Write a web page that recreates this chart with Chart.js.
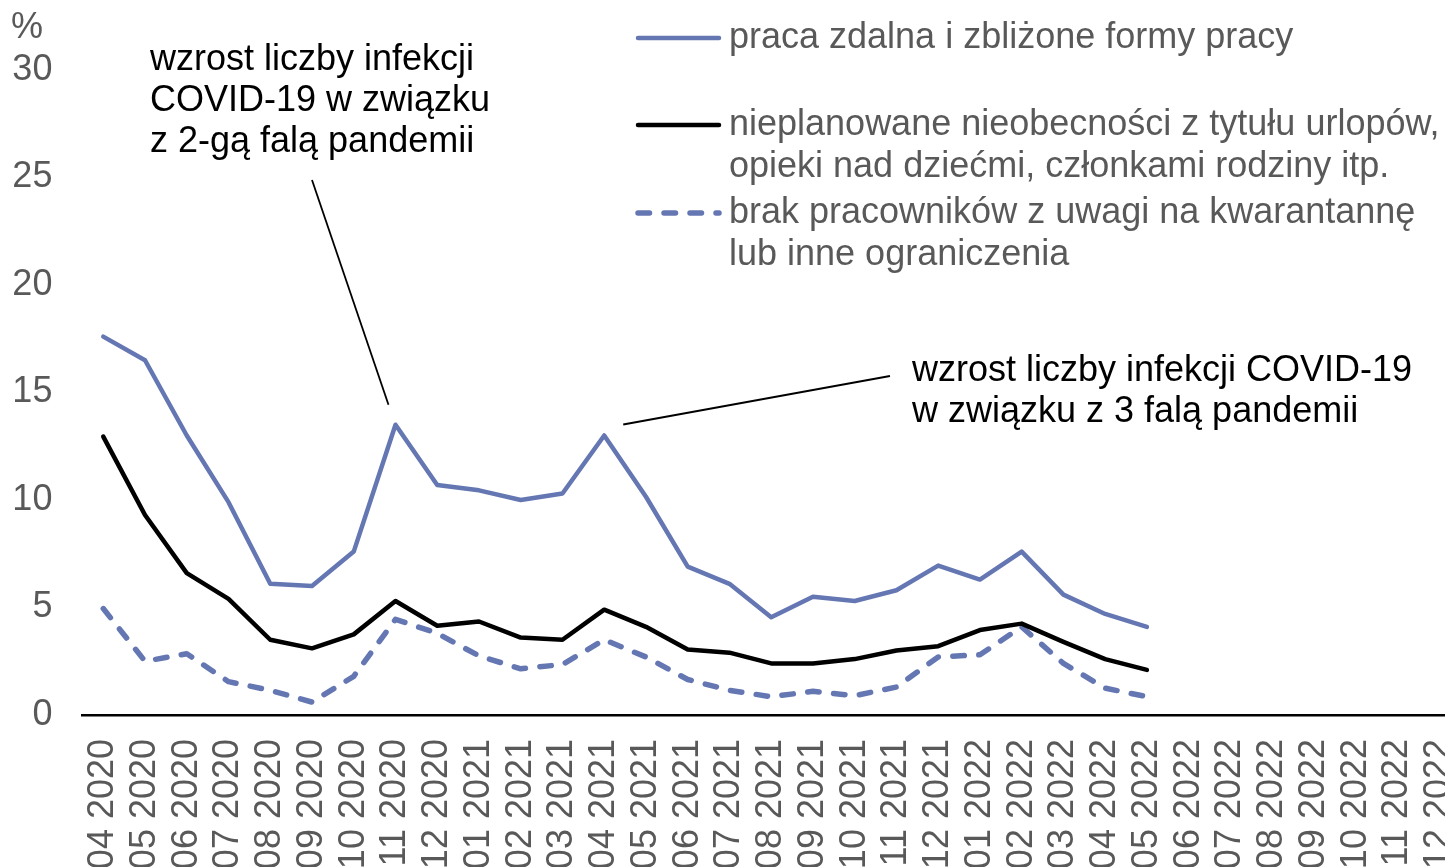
<!DOCTYPE html>
<html>
<head>
<meta charset="utf-8">
<script src="https://cdn.jsdelivr.net/npm/chart.js@4"></script>
<style>
    html, body { margin: 0; padding: 0; background: #fff; overflow: hidden; }
    #wrap { position: absolute; left: 0; top: 0; width: 1461px; height: 867px; }
</style>
</head>
<body>
<div id="wrap"><canvas id="chart1"></canvas></div>
<script>
// month labels (MM YYYY)
const months = [
    '04 2020', '05 2020', '06 2020', '07 2020', '08 2020', '09 2020', '10 2020', '11 2020', '12 2020',
    '01 2021', '02 2021', '03 2021', '04 2021', '05 2021', '06 2021', '07 2021', '08 2021', '09 2021',
    '10 2021', '11 2021', '12 2021', '01 2022', '02 2022', '03 2022', '04 2022', '05 2022', '06 2022',
    '07 2022', '08 2022', '09 2022', '10 2022', '11 2022', '12 2022'
];

const remoteWork = [17.6, 16.5, 13.0, 9.9, 6.1, 6.0, 7.6, 13.5, 10.7, 10.45, 10.0, 10.3, 13.0, 10.15,
    6.9, 6.1, 4.55, 5.5, 5.3, 5.8, 6.95, 6.3, 7.6, 5.6, 4.7, 4.1];
const unplannedAbsence = [12.95, 9.3, 6.6, 5.4, 3.5, 3.1, 3.75, 5.3, 4.15, 4.35, 3.6, 3.5, 4.9, 4.1,
    3.05, 2.9, 2.4, 2.4, 2.6, 3.0, 3.2, 3.95, 4.25, 3.4, 2.6, 2.1];
const quarantine = [4.95, 2.5, 2.85, 1.55, 1.15, 0.6, 1.8, 4.45, 3.8, 2.75, 2.15, 2.35, 3.5, 2.7,
    1.65, 1.15, 0.85, 1.1, 0.9, 1.3, 2.7, 2.8, 4.1, 2.4, 1.25, 0.85];

const yTicks = [0, 5, 10, 15, 20, 25, 30];

const legendItems = [
    { lines: ['praca zdalna i zbliżone formy pracy'], color: '#6577B3', dash: [] },
    { lines: ['nieplanowane nieobecności z tytułu urlopów,', 'opieki nad dziećmi, członkami rodziny itp.'], color: '#000000', dash: [] },
    { lines: ['brak pracowników z uwagi na kwarantannę', 'lub inne ograniczenia'], color: '#6577B3', dash: [11.5, 14.5] }
];

const FONT = '"Liberation Sans", Arial, sans-serif';
const BLUE = '#6577B3';
const GREY = '#595959';

// legend, annotations and the % unit label
const overlayPlugin = {
    id: 'overlay',
    afterDraw(chart) {
        const ctx = chart.ctx;
        const x = chart.scales.x;
        const y = chart.scales.y;
        ctx.save();
        ctx.font = '36px ' + FONT;
        ctx.textBaseline = 'middle';
        ctx.textAlign = 'left';

        ctx.fillStyle = GREY;
        ctx.fillText('%', 11, 28);

        // legend
        const rowY = [38, 125, 213];
        legendItems.forEach((item, i) => {
            ctx.beginPath();
            ctx.strokeStyle = item.color;
            ctx.lineWidth = item.dash.length ? 5.5 : 4.5;
            ctx.lineCap = 'round';
            ctx.setLineDash(item.dash);
            ctx.moveTo(638, rowY[i]);
            ctx.lineTo(719, rowY[i]);
            ctx.stroke();
            ctx.setLineDash([]);
            ctx.fillStyle = GREY;
            item.lines.forEach((t, j) => ctx.fillText(t, 729, rowY[i] + j * 42));
        });

        // annotations
        ctx.fillStyle = '#000';
        ['wzrost liczby infekcji', 'COVID-19 w związku', 'z 2-gą falą pandemii']
            .forEach((t, j) => ctx.fillText(t, 150, 60 + j * 41));
        ['wzrost liczby infekcji COVID-19', 'w związku z 3 falą pandemii']
            .forEach((t, j) => ctx.fillText(t, 912, 371 + j * 41));

        ctx.strokeStyle = '#000';
        ctx.lineWidth = 1.8;
        ctx.lineCap = 'butt';
        const p1x = x.getPixelForValue(7), p1y = y.getPixelForValue(remoteWork[7]);
        ctx.beginPath();
        ctx.moveTo(312, 180);
        ctx.lineTo(p1x - 7, p1y - 20);
        ctx.stroke();
        const p2x = x.getPixelForValue(12), p2y = y.getPixelForValue(remoteWork[12]);
        ctx.beginPath();
        ctx.moveTo(890, 376);
        ctx.lineTo(p2x + 19, p2y - 11);
        ctx.stroke();
        ctx.restore();
    }
};

new Chart(document.getElementById('chart1'), {
    type: 'line',
    data: {
        labels: months,
        datasets: [
            {
                label: legendItems[0].lines.join(' '),
                data: remoteWork,
                borderColor: BLUE,
                borderWidth: 4.5,
                pointRadius: 0,
                borderJoinStyle: 'round',
                borderCapStyle: 'round',
            },
            {
                label: legendItems[1].lines.join(' '),
                data: unplannedAbsence,
                borderColor: '#000000',
                borderWidth: 4.5,
                pointRadius: 0,
                borderJoinStyle: 'round',
                borderCapStyle: 'round',
            },
            {
                label: legendItems[2].lines.join(' '),
                data: quarantine,
                borderColor: BLUE,
                borderWidth: 5.5,
                borderDash: [11.5, 14.5],
                pointRadius: 0,
                borderJoinStyle: 'round',
                borderCapStyle: 'round',
            },
        ]
    },
    options: {
        responsive: true,
        maintainAspectRatio: false,
        animation: false,
        layout: {
            padding: { top: 70, right: 1, left: 0, bottom: 0 },
        },
        plugins: {
            legend: { display: false },
            tooltip: { enabled: false },
        },
        scales: {
            x: {
                offset: true,
                afterFit: (scale) => {
                    scale.height = 152;
                    scale.paddingLeft = 0;
                    scale.paddingRight = 0;
                },
                ticks: {
                    autoSkip: false,
                    minRotation: 90,
                    maxRotation: 90,
                    padding: 24,
                    color: GREY,
                    font: { family: FONT, size: 36 },
                },
                grid: { display: false, drawTicks: false },
                border: { display: true, color: '#000', width: 2.5 },
            },
            y: {
                min: 0,
                max: 30,
                afterFit: (scale) => { scale.width = 82.4; },
                afterBuildTicks: (scale) => { scale.ticks = yTicks.map(v => ({ value: v })); },
                ticks: {
                    padding: 30,
                    color: GREY,
                    font: { family: FONT, size: 36 },
                },
                grid: { display: false, drawTicks: false },
                border: { display: false },
            },
        },
    },
    plugins: [overlayPlugin],
});
</script>
</body>
</html>
